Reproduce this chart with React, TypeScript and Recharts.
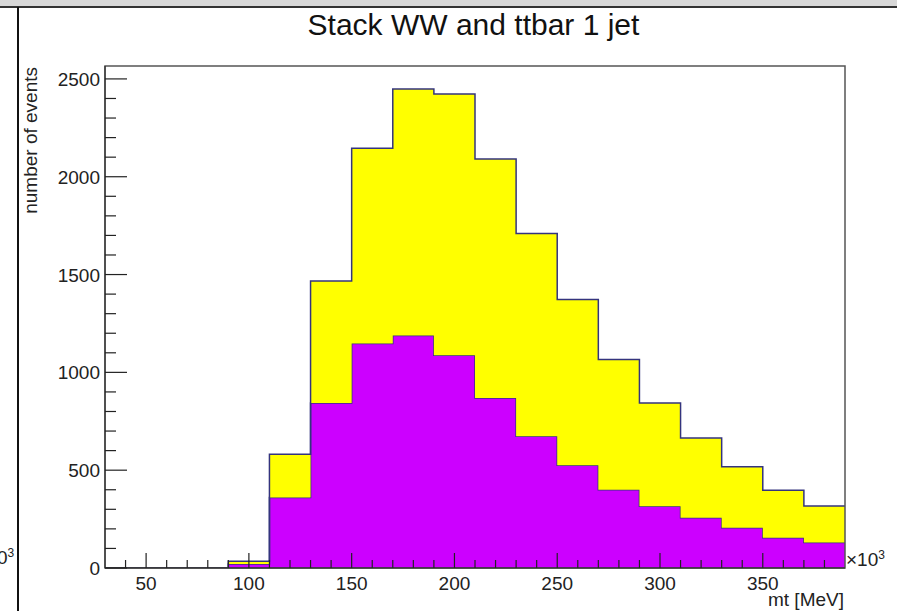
import { Area, ComposedChart, ReferenceArea, XAxis, YAxis } from "recharts";

// bin low edges (MeV x10^3), bin width 20
const binLow = [30, 50, 70, 90, 110, 130, 150, 170, 190, 210, 230, 250, 270, 290, 310, 330, 350, 370];
const binHigh = 390;
const wwCounts = [0, 0, 0, 20, 360, 844, 1148, 1189, 1088, 869, 673, 525, 400, 316, 257, 206, 155, 130];
const ttbarCounts = [0, 0, 0, 15, 222, 623, 997, 1260, 1335, 1221, 1037, 848, 666, 528, 407, 311, 242, 187];

const xTicks = [40, 50, 60, 70, 80, 90, 100, 110, 120, 130, 140, 150, 160, 170, 180, 190, 200, 210, 220, 230, 240, 250, 260, 270, 280, 290, 300, 310, 320, 330, 340, 350, 360, 370, 380];
const xLabels = [50, 100, 150, 200, 250, 300, 350];
const yTicks = [0, 100, 200, 300, 400, 500, 600, 700, 800, 900, 1000, 1100, 1200, 1300, 1400, 1500, 1600, 1700, 1800, 1900, 2000, 2100, 2200, 2300, 2400, 2500];
const yLabels = [0, 500, 1000, 1500, 2000, 2500];
const yMax = 2566;

// stepAfter areas need one extra point at the right edge
const data = [
  ...binLow.map((x, i) => ({ x, ww: wwCounts[i], ttbar: ttbarCounts[i] })),
  { x: binHigh, ww: wwCounts[wwCounts.length - 1], ttbar: ttbarCounts[ttbarCounts.length - 1] },
];

const FONT = "'Liberation Sans', Arial, sans-serif";
const OUTLINE = "#34347e";

function XTick(props: any) {
  const { x, y, payload } = props;
  const major = xLabels.includes(payload.value);
  return (
    <g>
      <line x1={x} x2={x} y1={y} y2={y - (major ? 15 : 8)} stroke="#222" strokeWidth={1.2} />
      {major && (
        <text x={x} y={y + 22} textAnchor="middle" fontSize={19} fontFamily={FONT} fill="#222">
          {payload.value}
        </text>
      )}
    </g>
  );
}

function YTick(props: any) {
  const { x, y, payload } = props;
  const major = yLabels.includes(payload.value);
  return (
    <g>
      <line x1={x} x2={x + (major ? 22 : 11)} y1={y} y2={y} stroke="#222" strokeWidth={1.2} />
      {major && (
        <text x={x - 5} y={y + 7} textAnchor="end" fontSize={19} fontFamily={FONT} fill="#222">
          {payload.value}
        </text>
      )}
    </g>
  );
}

export default function App() {
  return (
    <div style={{ position: "absolute", left: 0, top: 0, width: 897, height: 611, background: "#fff", overflow: "hidden", fontFamily: FONT }}>
      <div style={{ position: "absolute", left: 0, top: 0, width: 897, height: 6, background: "#d8d8d8" }} />
      <div style={{ position: "absolute", left: 0, top: 6, width: 897, height: 2, background: "#333" }} />
      <div style={{ position: "absolute", left: 17, top: 7, width: 2, height: 604, background: "#111" }} />
      <div style={{ position: "absolute", left: -3, top: 546, fontSize: 19, color: "#222", whiteSpace: "nowrap" }}>
        0<sup style={{ fontSize: 12 }}>3</sup>
      </div>

      <ComposedChart
        width={897}
        height={611}
        data={data}
        margin={{ top: 66, right: 52, bottom: 0, left: 0 }}
        style={{ position: "absolute", left: 0, top: 0 }}
      >
        <XAxis
          dataKey="x"
          type="number"
          domain={[30, binHigh]}
          ticks={xTicks}
          interval={0}
          tick={<XTick />}
          tickLine={false}
          tickSize={0}
          tickMargin={0}
          height={43}
          stroke="#222"
          allowDataOverflow
        />
        <YAxis
          type="number"
          domain={[0, yMax]}
          ticks={yTicks}
          interval={0}
          tick={<YTick />}
          tickLine={false}
          tickSize={0}
          tickMargin={0}
          width={105}
          stroke="#222"
          allowDataOverflow
        />
        <Area
          dataKey="ww"
          name="WW"
          stackId="s"
          type="stepAfter"
          fill="#cc00ff"
          fillOpacity={1}
          stroke={OUTLINE}
          strokeWidth={1.5}
          isAnimationActive={false}
        />
        <Area
          dataKey="ttbar"
          name="ttbar"
          stackId="s"
          type="stepAfter"
          fill="#ffff00"
          fillOpacity={1}
          stroke={OUTLINE}
          strokeWidth={1.5}
          isAnimationActive={false}
        />
        <ReferenceArea x1={30} x2={binHigh} y1={0} y2={yMax} fill="none" stroke="#555" strokeWidth={1.5} />
      </ComposedChart>

      <div style={{ position: "absolute", left: 0, width: 947, top: 8, textAlign: "center", fontSize: 30, color: "#111" }}>
        Stack WW and ttbar 1 jet
      </div>
      <div
        style={{
          position: "absolute",
          left: 20,
          top: 67,
          fontSize: 19,
          color: "#222",
          whiteSpace: "nowrap",
          transformOrigin: "0 0",
          transform: "translate(0px, 150px) rotate(-90deg)",
          width: 150,
          textAlign: "right",
        }}
      >
        number of events
      </div>
      <div style={{ position: "absolute", left: 846, top: 548, fontSize: 19, color: "#222" }}>
        ×10<sup style={{ fontSize: 12 }}>3</sup>
      </div>
      <div style={{ position: "absolute", right: 53, top: 589, fontSize: 19, color: "#222", whiteSpace: "nowrap" }}>
        mt [MeV]
      </div>
    </div>
  );
}
